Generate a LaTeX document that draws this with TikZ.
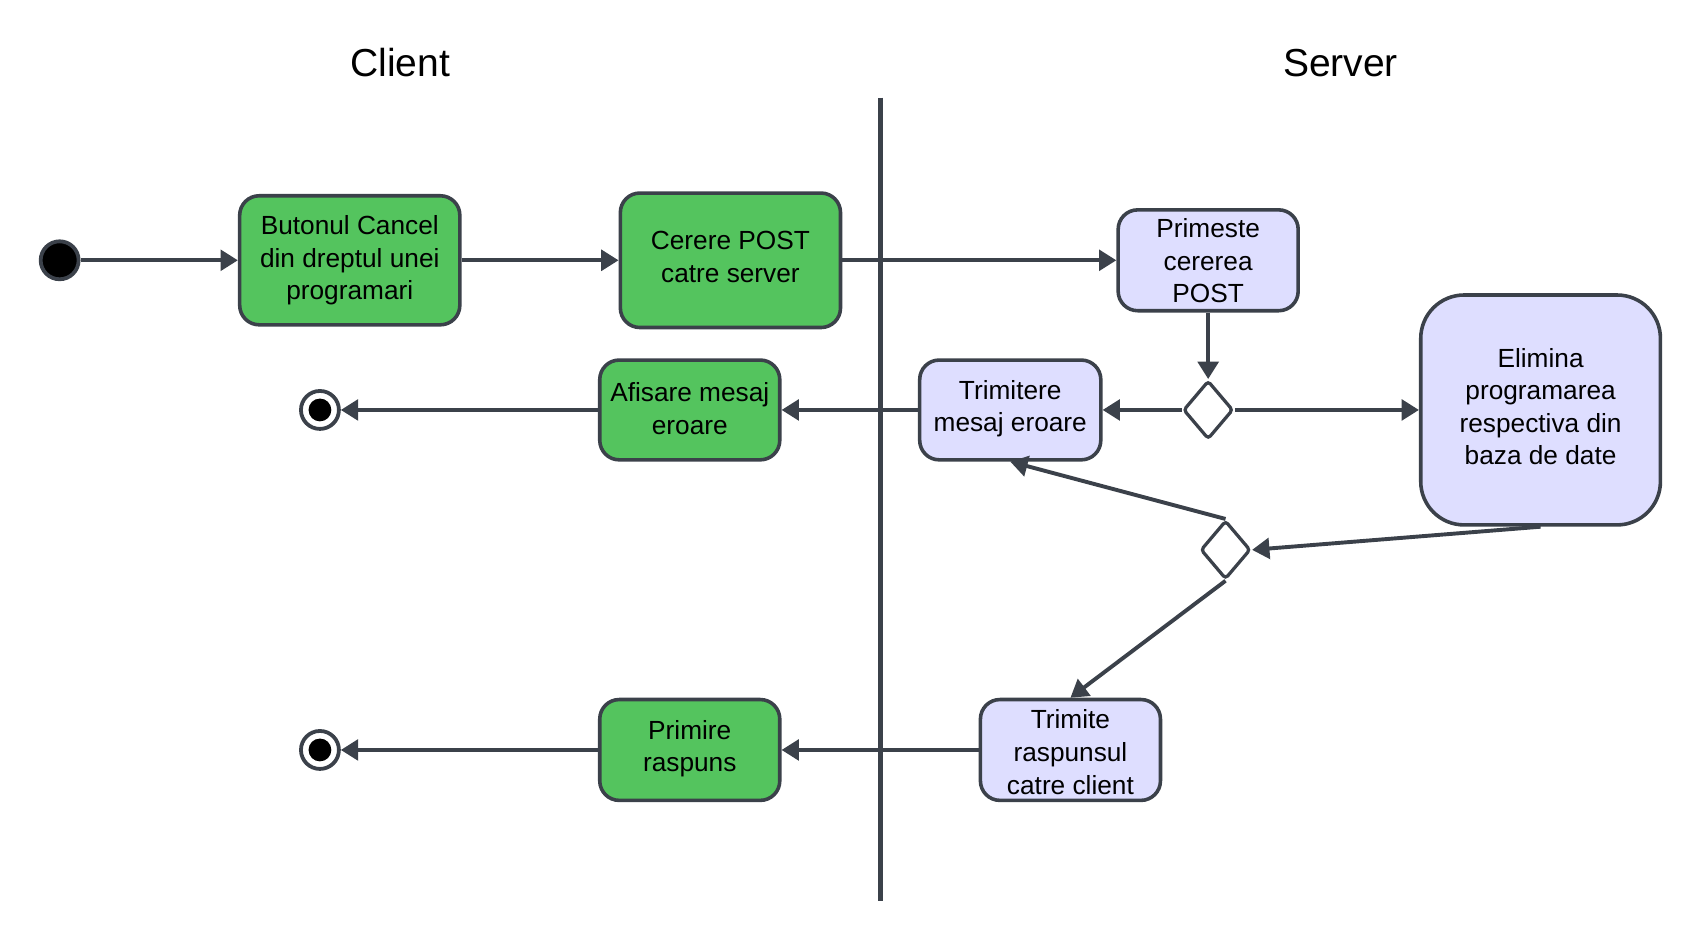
\documentclass[tikz,border=0pt]{standalone}
\usepackage{fontspec}
\setmainfont{Liberation Sans}
\usetikzlibrary{arrows.meta,shapes.geometric}
\definecolor{grn}{HTML}{54C45E}
\definecolor{lav}{HTML}{DEDEFF}
\definecolor{edge}{HTML}{3B414A}
\tikzset{
  actbox/.style={draw=edge, line width=3.3pt, rounded corners=18pt, inner sep=0pt},
  gbox/.style={actbox, fill=grn},
  lbox/.style={actbox, fill=lav},
  boxtxt/.style={align=center, inner sep=0pt, font=\fontsize{24.2}{30}\selectfont, text=black},
  decision/.style={diamond, draw=edge, fill=white, line width=3pt, inner sep=0pt, rounded corners=3pt,
    minimum width=46pt, minimum height=54pt},
  flow/.style={draw=edge, line width=3.6pt, -{Triangle[length=16pt,width=19pt]}},
  startdot/.style={circle, draw=edge, fill=black, line width=3.5pt, minimum size=35pt, inner sep=0pt},
  enddot/.style={circle, draw=edge, fill=white, line width=3.5pt, minimum size=35pt, inner sep=0pt},
  title/.style={font=\fontsize{36}{40}\selectfont, text=black}
}
\begin{document}
\begin{tikzpicture}[x=1pt,y=-1pt]
\useasboundingbox (0,0) rectangle (1567.5,866.7);
\node[title] (tc) at (369,58) {Client};
\node[title] (ts) at (1236,58) {Server};
\coordinate (lt) at (812,90);
\coordinate (lb) at (812,831);
\draw[draw=edge, line width=4.2pt] (lt) -- (lb);

\node[startdot] (start) at (55,240) {};
\node[gbox, minimum width=203pt, minimum height=119pt] (b1) at (322.5,240) {};
\node[boxtxt] (b1t) at ([yshift=0pt]b1.center) {Butonul Cancel\\din dreptul unei\\programari};
\node[gbox, minimum width=203pt, minimum height=124pt] (b2) at (673.5,240) {};
\node[boxtxt] (b2t) at ([yshift=3pt]b2.center) {Cerere POST\\catre server};
\node[lbox, minimum width=166pt, minimum height=93pt] (b3) at (1114,240) {};
\node[boxtxt] (b3t) at ([yshift=-0.5pt]b3.center) {Primeste\\cererea\\POST};
\node[decision] (d1) at (1114,378) {};
\node[lbox, rounded corners=40pt, minimum width=221pt, minimum height=212pt] (elim) at (1420.5,378) {};
\node[boxtxt] (elimt) at ([yshift=3pt]elim.center) {Elimina\\programarea\\respectiva din\\baza de date};
\node[lbox, minimum width=167pt, minimum height=92pt] (trer) at (931.5,378) {};
\node[boxtxt] (trert) at ([yshift=1pt]trer.center) {Trimitere\\mesaj eroare};
\node[gbox, minimum width=166pt, minimum height=92pt] (afis) at (636,378) {};
\node[boxtxt] (afist) at ([yshift=1pt]afis.center) {Afisare mesaj\\eroare};
\node[enddot] (e1) at (295,378) {};
\fill[black] (e1.center) circle (10.5pt);
\node[decision] (d2) at (1130,507) {};
\node[lbox, minimum width=166pt, minimum height=93pt] (trim) at (987,691.5) {};
\node[boxtxt] (trimt) at ([yshift=-2pt]trim.center) {Trimite\\raspunsul\\catre client};
\node[gbox, minimum width=166pt, minimum height=93pt] (prim) at (636,691.5) {};
\node[boxtxt] (primt) at ([yshift=1pt]prim.center) {Primire\\raspuns};
\node[enddot] (e2) at (295,691.5) {};
\fill[black] (e2.center) circle (10.5pt);

\draw[flow] (start.east) -- (b1.west);
\draw[flow] (b1.east) -- (b2.west);
\draw[flow] (b2.east) -- (b3.west);
\draw[flow] (b3.south) -- (d1.north);
\draw[flow] (d1.west) -- (trer.east);
\draw[flow] (d1.east) -- (elim.west);
\draw[flow] (elim.south) -- (d2.east);
\draw[flow] (d2.north) -- (trer.south);
\draw[flow] (d2.south) -- (trim.north);
\draw[flow] (trer.west) -- (afis.east);
\draw[flow] (afis.west) -- (e1.east);
\draw[flow] (trim.west) -- (prim.east);
\draw[flow] (prim.west) -- (e2.east);
\end{tikzpicture}
\end{document}
